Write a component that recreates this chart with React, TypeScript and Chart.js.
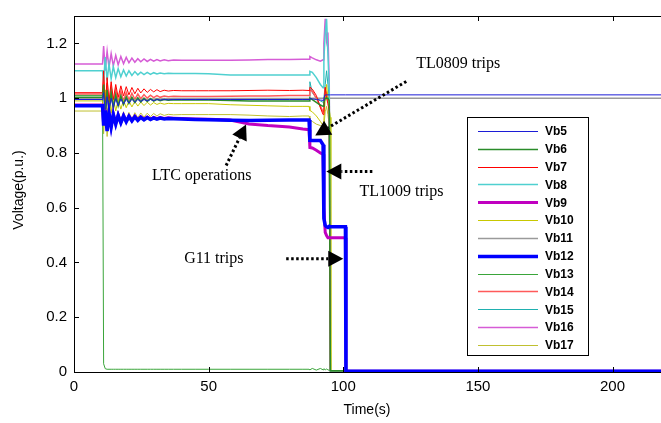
import { useEffect, useRef } from 'react';
import { Chart, registerables } from 'chart.js';

Chart.register(...registerables);

// Time axis (s)
const T = [0, 10.6, 11, 11.6, 12.3, 13, 13.8, 14.6, 15.5, 16.4,
  17.4, 18.4, 19.4, 20.4, 21.5, 22.6, 23.7, 24.8, 26, 27.2,
  28.4, 29.6, 30.8, 32, 33.5, 35, 37, 40, 45, 50,
  58, 65, 72, 80, 85, 87.3, 87.6, 88.5, 90, 91.5,
  92.5, 92.8, 93.3, 93.8, 94.3, 94.8, 95.2, 95.4, 100.8, 101, 218];

const SERIES_NAMES = ['Vb5', 'Vb6', 'Vb7', 'Vb8', 'Vb9', 'Vb10', 'Vb11', 'Vb12', 'Vb13', 'Vb14', 'Vb15', 'Vb16', 'Vb17'];

const vb5 = [0.995, 0.995, 1.02, 0.94, 1.005, 0.955, 1.0, 0.965, 0.998, 0.972,
  0.997, 0.978, 0.996, 0.982, 0.996, 0.985, 0.995, 0.988, 0.995, 0.99,
  0.995, 0.991, 0.995, 0.993, 0.995, 0.994, 0.995, 0.995, 0.995, 0.995,
  0.995, 0.995, 0.995, 0.995, 0.995, 0.995, 0.998, 0.997, 0.995, 0.993,
  0.992, 1.0, 1.012, 1.012, 1.012, 1.012, 1.012, 1.012, 1.012, 1.012, 1.012];
const vb6 = [1.003, 1.003, 1.05, 0.94, 1.03, 0.955, 1.02, 0.965, 1.012, 0.972,
  1.008, 0.977, 1.005, 0.981, 1.003, 0.984, 1.001, 0.986, 0.999, 0.988,
  0.998, 0.989, 0.996, 0.991, 0.995, 0.992, 0.994, 0.993, 0.993, 0.993,
  0.991, 0.99, 0.99, 0.99, 0.99, 0.99, 1.0, 0.995, 0.985, 0.975,
  0.97, 0.985, 1.0, 1.0, 1.0, 0.99, 0.005, 0.005, 0.005, 0.005, 0.005];
const vb7 = [1.02, 1.02, 1.10, 0.96, 1.075, 0.985, 1.06, 0.995, 1.05, 1.003,
  1.045, 1.008, 1.042, 1.012, 1.039, 1.016, 1.036, 1.019, 1.034, 1.021,
  1.032, 1.023, 1.031, 1.024, 1.029, 1.026, 1.028, 1.027, 1.027, 1.027,
  1.027, 1.028, 1.029, 1.028, 1.029, 1.028, 1.04, 1.033, 1.01, 0.965,
  0.94, 0.95, 1.04, 1.0, 0.98, 0.95, 0.005, 0.005, 0.005, 0.005, 0.005];
const vb8 = [1.10, 1.10, 1.06, 1.15, 1.065, 1.125, 1.07, 1.115, 1.075, 1.108,
  1.078, 1.103, 1.081, 1.10, 1.083, 1.097, 1.085, 1.095, 1.086, 1.094,
  1.087, 1.093, 1.088, 1.092, 1.089, 1.091, 1.09, 1.09, 1.09, 1.089,
  1.085, 1.085, 1.085, 1.085, 1.085, 1.085, 1.098, 1.094, 1.075, 1.05,
  1.038, 1.14, 1.24, 1.29, 1.16, 1.03, 0.005, 0.005, 0.005, 0.005, 0.005];
const vb9 = [0.975, 0.975, 0.902, 0.957, 0.882, 0.947, 0.897, 0.942, 0.907, 0.939,
  0.912, 0.937, 0.916, 0.935, 0.919, 0.934, 0.921, 0.932, 0.923, 0.931,
  0.924, 0.93, 0.925, 0.929, 0.926, 0.928, 0.927, 0.926, 0.924, 0.923,
  0.92, 0.906, 0.9, 0.895, 0.887, 0.885, 0.82, 0.818, 0.81, 0.8,
  0.795, 0.6, 0.51, 0.498, 0.49, 0.49, 0.49, 0.49, 0.49, 0.003, 0.003];
const vb10 = [0.99, 0.99, 0.92, 1.03, 0.935, 1.01, 0.945, 1.0, 0.953, 0.995,
  0.96, 0.992, 0.965, 0.99, 0.968, 0.988, 0.971, 0.986, 0.973, 0.985,
  0.975, 0.984, 0.977, 0.982, 0.978, 0.981, 0.98, 0.98, 0.98, 0.98,
  0.976, 0.974, 0.972, 0.97, 0.97, 0.97, 0.955, 0.95, 0.935, 0.915,
  0.9, 0.92, 1.0, 1.05, 1.0, 0.96, 0.93, 0.005, 0.005, 0.005, 0.005];
const vb11 = [1.0, 1.0, 1.02, 0.96, 1.01, 0.97, 1.006, 0.976, 1.004, 0.982,
  1.003, 0.986, 1.002, 0.989, 1.001, 0.991, 1.0, 0.993, 1.0, 0.994,
  0.999, 0.996, 0.999, 0.997, 0.999, 0.998, 0.999, 0.999, 0.999, 0.999,
  0.999, 0.999, 0.999, 0.999, 0.999, 0.999, 1.0, 1.0, 1.0, 1.0,
  1.0, 1.0, 1.0, 1.0, 1.0, 1.0, 1.0, 1.0, 1.0, 1.0, 1.0];
const vb12 = [0.972, 0.972, 0.90, 0.955, 0.88, 0.945, 0.895, 0.94, 0.905, 0.937,
  0.91, 0.935, 0.914, 0.933, 0.917, 0.932, 0.919, 0.93, 0.921, 0.929,
  0.922, 0.928, 0.923, 0.927, 0.924, 0.926, 0.925, 0.924, 0.922, 0.921,
  0.919, 0.918, 0.919, 0.92, 0.92, 0.92, 0.846, 0.845, 0.845, 0.845,
  0.83, 0.56, 0.535, 0.53, 0.528, 0.532, 0.53, 0.53, 0.53, 0.003, 0.003];
const vb13 = [1.01, 1.01, 0.03, 0.012, 0.01, 0.01, 0.01, 0.01, 0.01, 0.01,
  0.01, 0.01, 0.01, 0.01, 0.01, 0.01, 0.01, 0.01, 0.01, 0.01,
  0.01, 0.01, 0.01, 0.01, 0.01, 0.01, 0.01, 0.01, 0.01, 0.01,
  0.01, 0.01, 0.01, 0.01, 0.01, 0.01, 0.008, 0.013, 0.007, 0.013,
  0.008, 0.012, 0.008, 0.011, 0.008, 0.006, 0.003, 0.003, 0.003, 0.003, 0.003];
const vb14 = [1.015, 1.015, 1.08, 0.95, 1.055, 0.97, 1.04, 0.978, 1.03, 0.985,
  1.025, 0.99, 1.021, 0.993, 1.018, 0.996, 1.015, 0.998, 1.013, 1.0,
  1.011, 1.002, 1.009, 1.003, 1.008, 1.005, 1.007, 1.006, 1.006, 1.006,
  1.007, 1.008, 1.008, 1.01, 1.01, 1.01, 1.03, 1.025, 1.0, 0.97,
  0.95, 0.97, 1.03, 1.02, 0.99, 0.96, 0.005, 0.005, 0.005, 0.005, 0.005];
const vb15 = [0.998, 0.998, 1.03, 0.95, 1.02, 0.96, 1.012, 0.97, 1.008, 0.977,
  1.005, 0.982, 1.003, 0.985, 1.002, 0.988, 1.0, 0.99, 0.999, 0.991,
  0.998, 0.992, 0.997, 0.993, 0.996, 0.994, 0.995, 0.995, 0.995, 0.995,
  0.995, 0.995, 0.995, 0.995, 0.995, 0.995, 1.06, 1.02, 1.0, 0.99,
  0.985, 1.0, 1.05, 1.1, 1.05, 1.0, 0.005, 0.005, 0.005, 0.005, 0.005];
const vb16 = [1.125, 1.125, 1.19, 1.10, 1.172, 1.112, 1.163, 1.118, 1.156, 1.122,
  1.152, 1.126, 1.149, 1.129, 1.146, 1.131, 1.144, 1.133, 1.143, 1.134,
  1.142, 1.135, 1.141, 1.136, 1.14, 1.137, 1.139, 1.138, 1.138, 1.138,
  1.138, 1.139, 1.141, 1.141, 1.142, 1.142, 1.152, 1.147, 1.14, 1.135,
  1.14, 1.2, 1.29, 1.21, 1.24, 1.05, 0.005, 0.005, 0.005, 0.005, 0.005];
const vb17 = [0.953, 0.953, 0.87, 0.97, 0.86, 0.955, 0.885, 0.955, 0.9, 0.952,
  0.91, 0.95, 0.918, 0.948, 0.924, 0.947, 0.928, 0.946, 0.931, 0.945,
  0.933, 0.944, 0.935, 0.943, 0.937, 0.941, 0.939, 0.94, 0.94, 0.94,
  0.94, 0.938, 0.935, 0.933, 0.935, 0.935, 0.92, 0.915, 0.905, 0.9,
  0.895, 0.9, 0.95, 0.97, 0.94, 0.9, 0.005, 0.005, 0.005, 0.005, 0.005];

const SERIES_VALUES = [vb5, vb6, vb7, vb8, vb9, vb10, vb11, vb12, vb13, vb14, vb15, vb16, vb17];
const COLORS = ['#1c1cd6', '#2a8c2a', '#ff0000', '#4fd0d0', '#c000c0', '#c8c800', '#9a9a9a', '#0000ff', '#3aa53a', '#ff5a5a', '#1fb0b0', '#d65cd6', '#c0c030'];
const WIDTHS = [1, 1.5, 1, 1.5, 3, 1, 1.5, 3.5, 1, 1.5, 1, 1.5, 1];
const ORDERS = [0, 0, 0, 0, -1, 0, 0, -2, 0, 0, 0, 0, 0];

const X_TICKS = [0, 50, 100, 150, 200];
const Y_TICKS = [0, 0.2, 0.4, 0.6, 0.8, 1, 1.2];

// annotations (data coordinates)
const NOTE_TEXT = ['TL0809 trips', 'LTC operations', 'TL1009 trips', 'G11 trips'];
const NOTE_X = [127.1, 29, 106, 40.9];
const NOTE_Y = [1.125, 0.718, 0.657, 0.414];
const ARROW_FROM_X = [123.4, 56.5, 110.8, 78.8];
const ARROW_FROM_Y = [1.061, 0.754, 0.732, 0.414];
const ARROW_TO_X = [89.6, 63.9, 93.7, 100];
const ARROW_TO_Y = [0.864, 0.904, 0.732, 0.414];

function drawArrow(ctx: CanvasRenderingContext2D, x1: number, y1: number, x2: number, y2: number) {
  const dx = x2 - x1;
  const dy = y2 - y1;
  const len = Math.sqrt(dx * dx + dy * dy);
  const ux = dx / len;
  const uy = dy / len;
  const head = 15;
  const half = 8;
  const bx = x2 - ux * head;
  const by = y2 - uy * head;
  ctx.save();
  ctx.strokeStyle = '#000';
  ctx.lineWidth = 3;
  ctx.setLineDash([2.5, 2.5]);
  ctx.beginPath();
  ctx.moveTo(x1, y1);
  ctx.lineTo(bx, by);
  ctx.stroke();
  ctx.setLineDash([]);
  ctx.fillStyle = '#000';
  ctx.beginPath();
  ctx.moveTo(x2, y2);
  ctx.lineTo(bx - uy * half, by + ux * half);
  ctx.lineTo(bx + uy * half, by - ux * half);
  ctx.closePath();
  ctx.fill();
  ctx.restore();
}

const overlay = {
  id: 'overlay',
  afterDatasetsDraw(chart: any) {
    const { ctx, chartArea: a, scales } = chart;
    const x = scales.x;
    const y = scales.y;
    ctx.save();
    ctx.strokeStyle = '#000';
    ctx.lineWidth = 1;
    ctx.strokeRect(a.left + 0.5, a.top + 0.5, a.right - a.left + 10, a.bottom - a.top);
    ctx.beginPath();
    for (const t of X_TICKS) {
      const px = Math.round(x.getPixelForValue(t)) + 0.5;
      ctx.moveTo(px, a.bottom);
      ctx.lineTo(px, a.bottom - 5);
      ctx.moveTo(px, a.top);
      ctx.lineTo(px, a.top + 5);
    }
    for (const v of Y_TICKS) {
      const py = Math.round(y.getPixelForValue(v)) + 0.5;
      ctx.moveTo(a.left, py);
      ctx.lineTo(a.left + 5, py);
    }
    ctx.stroke();
    ctx.restore();
  },
  afterDraw(chart: any) {
    const { ctx, scales } = chart;
    const x = scales.x;
    const y = scales.y;
    ctx.save();
    ctx.fillStyle = '#000';
    ctx.font = '14px "Liberation Sans", Arial, sans-serif';
    ctx.textAlign = 'center';
    ctx.textBaseline = 'middle';
    ctx.fillText('Time(s)', 367, 410);
    ctx.save();
    ctx.translate(19, 190);
    ctx.rotate(-Math.PI / 2);
    ctx.fillText('Voltage(p.u.)', 0, 0);
    ctx.restore();

    // legend
    const lx = 467, ly = 117, lw = 121, lh = 238;
    ctx.fillStyle = '#fff';
    ctx.fillRect(lx, ly, lw, lh);
    ctx.strokeStyle = '#000';
    ctx.lineWidth = 1;
    ctx.strokeRect(lx + 0.5, ly + 0.5, lw, lh);
    ctx.font = 'bold 12px "Liberation Sans", Arial, sans-serif';
    ctx.textAlign = 'left';
    ctx.textBaseline = 'middle';
    SERIES_NAMES.forEach((name, i) => {
      const yy = 131 + i * 17.83;
      ctx.strokeStyle = COLORS[i];
      ctx.lineWidth = WIDTHS[i];
      ctx.beginPath();
      ctx.moveTo(478, Math.round(yy) + 0.5);
      ctx.lineTo(538, Math.round(yy) + 0.5);
      ctx.stroke();
      ctx.fillStyle = '#000';
      ctx.fillText(name, 545, yy + 1);
    });

    // annotations
    ctx.font = '16px "Liberation Serif", "Times New Roman", serif';
    ctx.fillStyle = '#000';
    ctx.textAlign = 'left';
    ctx.textBaseline = 'middle';
    NOTE_TEXT.forEach((txt, i) => {
      ctx.fillText(txt, x.getPixelForValue(NOTE_X[i]), y.getPixelForValue(NOTE_Y[i]));
      drawArrow(ctx,
        x.getPixelForValue(ARROW_FROM_X[i]), y.getPixelForValue(ARROW_FROM_Y[i]),
        x.getPixelForValue(ARROW_TO_X[i]), y.getPixelForValue(ARROW_TO_Y[i]));
    });
    ctx.restore();
  },
};

export default function App() {
  const ref = useRef<HTMLCanvasElement>(null);
  useEffect(() => {
    if (!ref.current) return;
    const datasets = SERIES_NAMES.map((name, i) => ({
      label: name,
      data: T.map((t, k) => ({ x: t, y: SERIES_VALUES[i][k] })),
      borderColor: COLORS[i],
      backgroundColor: COLORS[i],
      borderWidth: WIDTHS[i],
      pointRadius: 0,
      tension: 0,
      fill: false,
      order: ORDERS[i],
    }));
    const chart = new Chart(ref.current, {
      type: 'line',
      data: { datasets },
      plugins: [overlay],
      options: {
        animation: false,
        responsive: false,
        devicePixelRatio: 1,
        layout: { padding: { top: 8, right: 0, left: 0, bottom: 0 } },
        plugins: { legend: { display: false }, tooltip: { enabled: false } },
        scales: {
          x: {
            type: 'linear',
            min: 0,
            max: 218,
            grid: { display: false, drawTicks: false },
            border: { display: false },
            ticks: {
              stepSize: 50,
              padding: 6,
              color: '#000',
              font: { family: '"Liberation Sans", Arial, sans-serif', size: 15 },
              maxRotation: 0,
            },
            afterBuildTicks: (s: any) => { s.ticks = X_TICKS.map((v) => ({ value: v })); },
            afterFit: (s: any) => { s.height = 51; },
          },
          y: {
            type: 'linear',
            min: 0,
            max: 1.3,
            grid: { display: false, drawTicks: false },
            border: { display: false },
            ticks: {
              padding: 7,
              color: '#000',
              font: { family: '"Liberation Sans", Arial, sans-serif', size: 15 },
              callback: (v: any) => String(Math.round(Number(v) * 10) / 10),
            },
            afterBuildTicks: (s: any) => { s.ticks = Y_TICKS.map((v) => ({ value: v })); },
            afterFit: (s: any) => { s.width = 74; },
          },
        },
      },
    });
    return () => chart.destroy();
  }, []);
  return (
    <div style={{ position: 'fixed', left: 0, top: 0, width: 661, height: 423, background: '#fff' }}>
      <canvas ref={ref} width={661} height={423} style={{ width: 661, height: 423, display: 'block' }} />
    </div>
  );
}
